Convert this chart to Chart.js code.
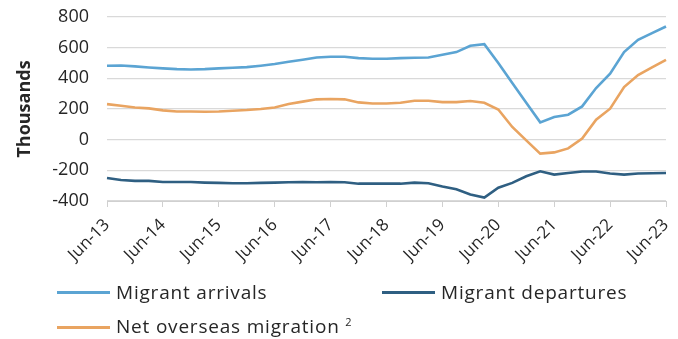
<!DOCTYPE html>
<html>
<head>
<meta charset="utf-8">
<script src="https://cdn.jsdelivr.net/npm/chart.js@4"></script>
<style>
    body { margin: 0; background: #fff; }
    #wrap { position: relative; width: 678px; height: 339px; }
    .legendItem {
        position: absolute;
        font-family: "Open Sans", "Liberation Sans", sans-serif;
        font-size: 19px;
        letter-spacing: 0.8px;
        color: #262626;
        white-space: nowrap;
        line-height: 20px;
    }
    .legendItem span.swatch {
        display: inline-block;
        width: 53px;
        height: 3px;
        vertical-align: middle;
        margin-right: 6px;
        position: relative;
        top: -1px;
    }
    sup { font-size: 11px; }
</style>
</head>
<body>
<div id="wrap">
    <canvas id="migrationChart" width="678" height="339"></canvas>
    <div class="legendItem" style="left:57px; top:282px;"><span class="swatch" style="background:#5ba4d3"></span>Migrant arrivals</div>
    <div class="legendItem" style="left:382px; top:282px;"><span class="swatch" style="background:#2f5f82"></span>Migrant departures</div>
    <div class="legendItem" style="left:57px; top:312px;"><span class="swatch" style="background:#e9a461"></span>Net overseas migration <sup>2</sup></div>
</div>
<script>
// quarters Jun-13 .. Jun-23
const quarterLabels = [
    "Jun-13", "Sep-13", "Dec-13", "Mar-14", "Jun-14", "Sep-14", "Dec-14", "Mar-15",
    "Jun-15", "Sep-15", "Dec-15", "Mar-16", "Jun-16", "Sep-16", "Dec-16", "Mar-17",
    "Jun-17", "Sep-17", "Dec-17", "Mar-18", "Jun-18", "Sep-18", "Dec-18", "Mar-19",
    "Jun-19", "Sep-19", "Dec-19", "Mar-20", "Jun-20", "Sep-20", "Dec-20", "Mar-21",
    "Jun-21", "Sep-21", "Dec-21", "Mar-22", "Jun-22", "Sep-22", "Dec-22", "Mar-23",
    "Jun-23"
];

const arrivals = [
    482, 484, 478, 471, 465, 460, 458, 460, 465, 469, 473, 482, 493, 508, 521, 536,
    541, 541, 532, 528, 528, 532, 534, 536, 554, 571, 612, 623, 500, 370, 240, 113,
    148, 163, 217, 337, 430, 571, 651, 695, 738
];

const departures = [
    -250, -263, -269, -269, -276, -276, -276, -280, -282, -284, -284, -282, -280, -278, -276, -278,
    -276, -278, -287, -287, -287, -287, -280, -284, -306, -324, -358, -378, -313, -282, -239, -206,
    -228, -217, -208, -208, -221, -228, -221, -219, -217
];

const netMigration = [
    232, 221, 210, 204, 191, 184, 184, 182, 184, 189, 193, 200, 210, 232, 248, 263,
    265, 263, 243, 236, 236, 241, 254, 254, 245, 245, 252, 241, 197, 83, -5, -91,
    -83, -57, 8, 130, 202, 343, 421, 471, 521
];

const yTicks = [-400, -200, 0, 200, 400, 600, 800];

const fontFamily = "'Open Sans', 'Liberation Sans', sans-serif";
const textColor = "#262626";

function makeLine(data, color) {
    return {
        data: data,
        borderColor: color,
        backgroundColor: color,
        borderWidth: 2.6,
        pointRadius: 0,
        tension: 0,
        fill: false
    };
}

let canvasID = document.getElementById("migrationChart");
const MigrationChart = new Chart(canvasID, {
    type: "line",
    data: {
        labels: quarterLabels,
        datasets: [
            makeLine(arrivals, "#5ba4d3"),
            makeLine(departures, "#2f5f82"),
            makeLine(netMigration, "#e9a461")
        ]
    },
    options: {
        responsive: false,
        animation: false,
        layout: {
            padding: { top: 17, right: 12, left: 14, bottom: 0 }
        },
        plugins: {
            legend: { display: false },
            tooltip: { enabled: false }
        },
        scales: {
            x: {
                grid: {
                    drawOnChartArea: false,
                    tickLength: 6,
                    color: function (context) {
                        return context.index % 4 === 0 ? "#d0d0d0" : "transparent";
                    }
                },
                border: { color: "#d0d0d0" },
                ticks: {
                    autoSkip: false,
                    maxRotation: 45,
                    minRotation: 45,
                    padding: 8,
                    color: textColor,
                    font: { family: fontFamily, size: 17 },
                    callback: function (value, index) {
                        return index % 4 === 0 ? quarterLabels[index] : "";
                    }
                },
                afterFit: function (scale) {
                    scale.height = 138;
                    scale.paddingLeft = 0;
                    scale.paddingRight = 0;
                }
            },
            y: {
                min: -400,
                max: 800,
                afterBuildTicks: function (scale) {
                    scale.ticks = yTicks.map(v => ({ value: v }));
                },
                grid: {
                    color: "#d9d9d9",
                    lineWidth: 1.3,
                    drawTicks: false
                },
                border: { display: false },
                ticks: {
                    padding: 18,
                    color: textColor,
                    font: { family: fontFamily, size: 18 }
                },
                title: {
                    display: true,
                    text: "Thousands",
                    color: textColor,
                    font: { family: fontFamily, size: 18, weight: "bold" },
                    padding: 0
                },
                afterFit: function (scale) {
                    scale.width = 93;
                    scale.paddingTop = 0;
                    scale.paddingBottom = 0;
                }
            }
        }
    }
});
</script>
</body>
</html>
